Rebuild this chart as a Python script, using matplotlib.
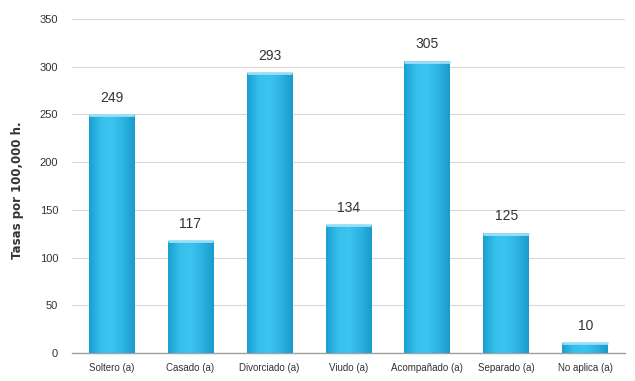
import matplotlib
matplotlib.use("Agg")
import matplotlib.pyplot as plt
import numpy as np
from matplotlib.colors import LinearSegmentedColormap

categories = ["Soltero (a)", "Casado (a)", "Divorciado (a)", "Viudo (a)",
              "Acompañado (a)", "Separado (a)", "No aplica (a)"]
values = [249, 117, 293, 134, 305, 125, 10]
yticks = [0, 50, 100, 150, 200, 250, 300, 350]

plt.rcParams['font.family'] = ['Liberation Sans Narrow', 'Liberation Sans', 'DejaVu Sans']

fig = plt.figure(figsize=(6.35, 3.81), dpi=100)
ax = fig.add_axes([0.1134, 0.0735, 0.8706, 0.8765])

x = np.arange(len(categories))
width = 0.58
bars = ax.bar(x, values, width=width, color="#2BB5E3", zorder=2)

# horizontal shading across each bar: darker edges, lighter middle
cmap = LinearSegmentedColormap.from_list(
    "barshade", ["#1A9FD0", "#35C0EC", "#3CC4EE", "#2DB3E2", "#1A9BCB"])
grad = np.linspace(0, 1, 64).reshape(1, -1)
for b in bars:
    x0, w, h = b.get_x(), b.get_width(), b.get_height()
    ax.imshow(grad, extent=[x0, x0 + w, 0, h], aspect="auto", cmap=cmap,
              zorder=3, interpolation="bilinear")
    # light rim along the top of the bar
    ax.plot([x0, x0 + w], [h, h], color="#9ADFF5", lw=2, zorder=4,
            solid_capstyle="butt")
    b.set_visible(False)

for xi, v in zip(x, values):
    ax.text(xi, v + 11, str(v), ha="center", va="bottom", fontsize=10,
            color="#333333", zorder=5)

ax.set_xlim(-0.5, len(categories) - 0.5)
ax.set_ylim(0, 350)
ax.set_yticks(yticks)
ax.set_xticks(x)
ax.set_xticklabels(categories, fontsize=7, color="#333333")
ax.tick_params(axis="y", labelsize=8, labelcolor="#333333", length=0, pad=10)
ax.tick_params(axis="x", length=0, pad=7)
ax.grid(axis="y", color="#D8D8D8", lw=0.8, zorder=0)
ax.set_axisbelow(True)
for s in ["top", "right", "left"]:
    ax.spines[s].set_visible(False)
ax.spines["bottom"].set_color("#A0A0A0")
ax.spines["bottom"].set_linewidth(1.0)

fig.text(0.028, 0.5, "Tasas por 100,000 h.", rotation=90, ha="center",
         va="center", fontsize=8.5, fontweight="bold", color="#333333",
         family=["DejaVu Sans"])

fig.savefig("out.png", dpi=100)
